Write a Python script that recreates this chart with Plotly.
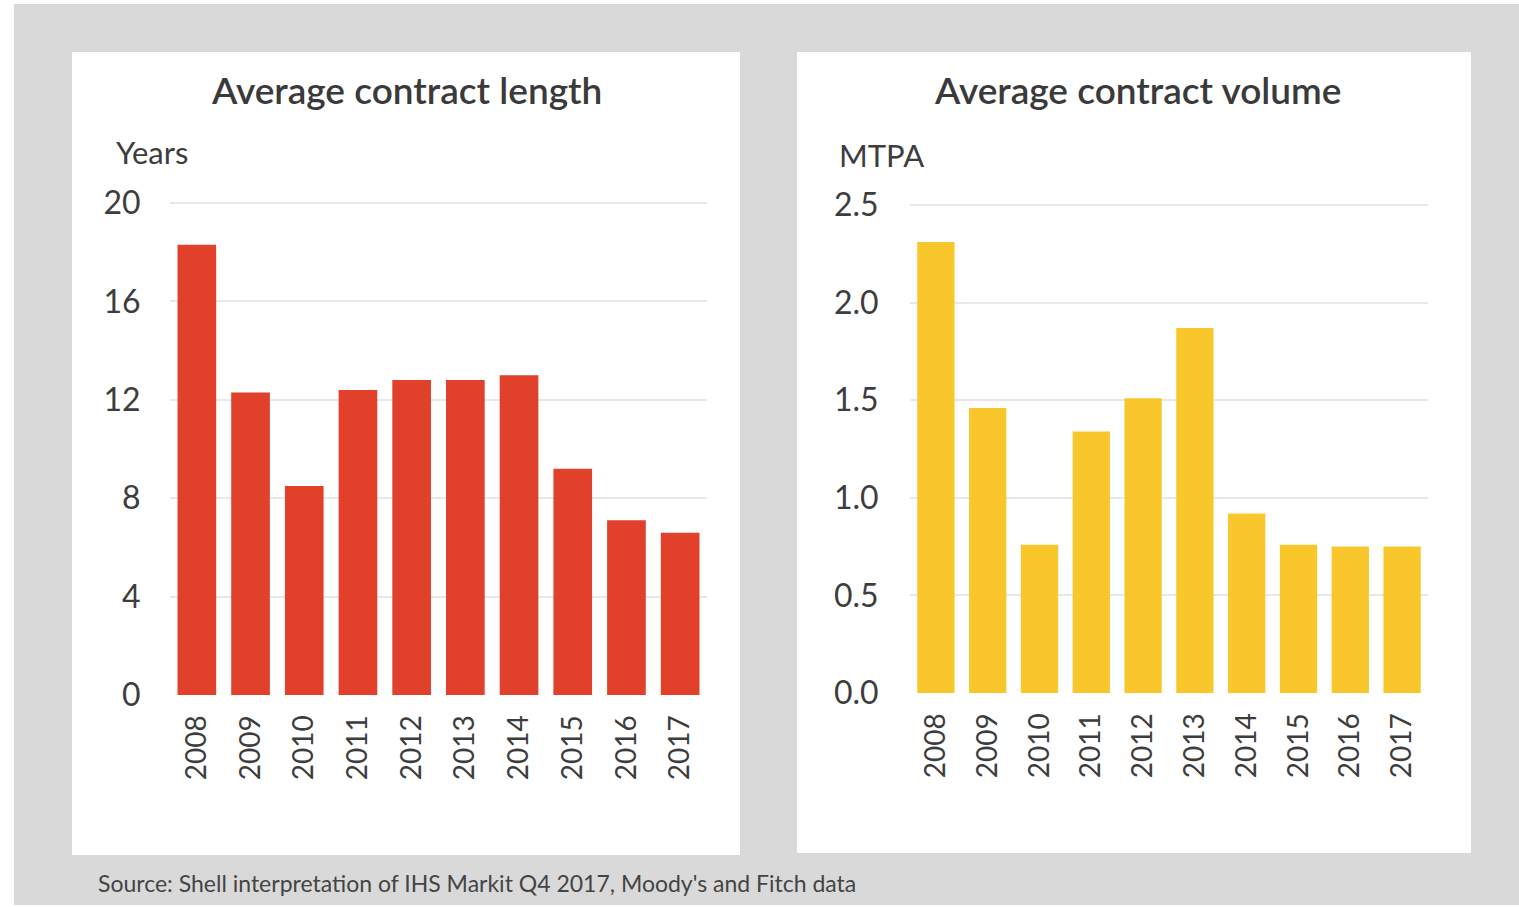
import plotly.graph_objects as go

# Contract data by signing year
years = ["2008", "2009", "2010", "2011", "2012", "2013", "2014", "2015", "2016", "2017"]
length_years = [18.3, 12.3, 8.5, 12.4, 12.8, 12.8, 13.0, 9.2, 7.1, 6.6]
volume_mtpa = [2.31, 1.46, 0.76, 1.34, 1.51, 1.87, 0.92, 0.76, 0.75, 0.75]

length_ticks = [0, 4, 8, 12, 16, 20]
volume_ticks = [0.0, 0.5, 1.0, 1.5, 2.0, 2.5]

W, H = 1519, 907
FONT = "Lato, 'Noto Sans', sans-serif"
TEXT = "#3d3d3d"
GRID = "#e8e8e8"


def px_x(v):
    return v / W


def px_y(v):
    return 1 - v / H


fig = go.Figure()

fig.add_trace(go.Bar(
    x=years, y=length_years, marker=dict(color="#E1402A", line=dict(width=0)),
    xaxis="x", yaxis="y", hoverinfo="x+y", showlegend=False,
))
fig.add_trace(go.Bar(
    x=years, y=volume_mtpa, marker=dict(color="#F9C72C", line=dict(width=0)),
    xaxis="x2", yaxis="y2", hoverinfo="x+y", showlegend=False,
))

# panel frame: grey backdrop with two white cards
shapes = [
    dict(type="rect", xref="paper", yref="paper", layer="below",
         x0=px_x(14), x1=1.0, y0=px_y(905), y1=px_y(4),
         fillcolor="#d9d9d9", line=dict(width=0)),
    dict(type="rect", xref="paper", yref="paper", layer="below",
         x0=px_x(72), x1=px_x(740), y0=px_y(855), y1=px_y(52),
         fillcolor="#ffffff", line=dict(width=0)),
    dict(type="rect", xref="paper", yref="paper", layer="below",
         x0=px_x(797), x1=px_x(1471), y0=px_y(853), y1=px_y(52),
         fillcolor="#ffffff", line=dict(width=0)),
]

annotations = [
    dict(text="Average contract length", x=px_x(406), y=px_y(90), xref="paper", yref="paper",
         showarrow=False, xanchor="center", yanchor="middle",
         font=dict(family=FONT, size=37, color="#3a3a3a", weight=600)),
    dict(text="Average contract volume", x=px_x(1137), y=px_y(90), xref="paper", yref="paper",
         showarrow=False, xanchor="center", yanchor="middle",
         font=dict(family=FONT, size=37, color="#3a3a3a", weight=600)),
    dict(text="Years", x=px_x(114), y=px_y(152), xref="paper", yref="paper",
         showarrow=False, xanchor="left", yanchor="middle",
         font=dict(family=FONT, size=31, color=TEXT)),
    dict(text="MTPA", x=px_x(837), y=px_y(155), xref="paper", yref="paper",
         showarrow=False, xanchor="left", yanchor="middle",
         font=dict(family=FONT, size=31, color=TEXT)),
    dict(text="Source: Shell interpretation of IHS Markit Q4 2017, Moody's and Fitch data",
         x=px_x(96), y=px_y(883), xref="paper", yref="paper",
         showarrow=False, xanchor="left", yanchor="middle",
         font=dict(family=FONT, size=23, color="#444444")),
]

tickfont_y = dict(family=FONT, size=32, color=TEXT)
tickfont_x = dict(family=FONT, size=28, color=TEXT)

# left chart: 0 at y=695px, 24.6 px per year; right chart: 0 at y=693px, 195.2 px per MTPA
l_top = 20.5
r_top = 2.56
fig.update_layout(
    template="none",
    width=W, height=H,
    margin=dict(l=0, r=0, t=0, b=0, pad=0, autoexpand=False),
    paper_bgcolor="#ffffff",
    plot_bgcolor="rgba(0,0,0,0)",
    bargap=0.28,
    showlegend=False,
    shapes=shapes,
    annotations=annotations,
    xaxis=dict(domain=[px_x(170), px_x(707)], type="category", tickangle=-90,
               tickfont=tickfont_x, ticks="outside", ticklen=8, tickcolor="rgba(0,0,0,0)",
               showgrid=False, showline=False, zeroline=False, fixedrange=True,
               automargin=False),
    yaxis=dict(domain=[px_y(695), px_y(695 - l_top * 24.6)], range=[0, l_top],
               tickvals=length_ticks, tickfont=tickfont_y,
               ticks="outside", ticklen=22, tickcolor="rgba(0,0,0,0)",
               showgrid=True, gridcolor=GRID, gridwidth=2,
               showline=False, zeroline=False, fixedrange=True, automargin=False),
    xaxis2=dict(domain=[px_x(910), px_x(1428)], type="category", tickangle=-90, anchor="y2",
                tickfont=tickfont_x, ticks="outside", ticklen=8, tickcolor="rgba(0,0,0,0)",
                showgrid=False, showline=False, zeroline=False, fixedrange=True,
                automargin=False),
    yaxis2=dict(domain=[px_y(693), px_y(693 - r_top * 195.2)], range=[0, r_top], anchor="x2",
                tickvals=volume_ticks, ticktext=[f"{v:.1f}" for v in volume_ticks],
                tickfont=tickfont_y,
                ticks="outside", ticklen=24, tickcolor="rgba(0,0,0,0)",
                showgrid=True, gridcolor=GRID, gridwidth=2,
                showline=False, zeroline=False, fixedrange=True, automargin=False),
)

fig.write_html("out.html")
